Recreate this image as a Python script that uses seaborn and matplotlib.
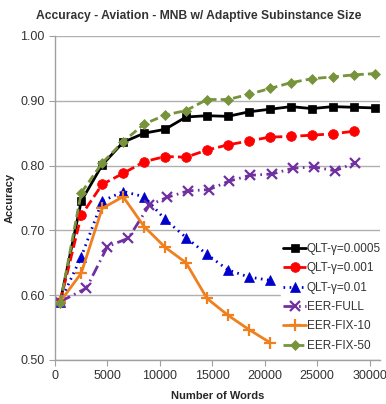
import matplotlib
matplotlib.use("Agg")
import matplotlib.pyplot as plt
import seaborn as sns
import numpy as np

# ---- data ----
x_common = [500, 2500, 4500, 6500, 8500, 10500, 12500, 14500, 16500, 18500,
            20500, 22500, 24500, 26500, 28500, 30500]
qlt_0005 = [0.590, 0.745, 0.801, 0.836, 0.850, 0.856, 0.875, 0.877, 0.876, 0.883,
            0.887, 0.891, 0.888, 0.891, 0.890, 0.889]
x_red = x_common[:15]
qlt_001 = [0.590, 0.723, 0.771, 0.788, 0.806, 0.814, 0.813, 0.824, 0.832, 0.838,
           0.844, 0.845, 0.847, 0.849, 0.853]
x_blue = x_common[:11]
qlt_01 = [0.590, 0.659, 0.745, 0.760, 0.752, 0.717, 0.689, 0.663, 0.639, 0.628, 0.623]
x_purple = [500, 3000, 5000, 7000, 9000, 10700, 12700, 14700, 16600, 18600,
            20700, 22700, 24700, 26700, 28600]
eer_full = [0.590, 0.611, 0.675, 0.688, 0.739, 0.751, 0.761, 0.763, 0.776, 0.785,
            0.787, 0.796, 0.798, 0.792, 0.804]
x_orange = x_common[:11]
eer_fix10 = [0.590, 0.634, 0.734, 0.752, 0.706, 0.674, 0.650, 0.595, 0.569, 0.547, 0.527]
eer_fix50 = [0.588, 0.758, 0.804, 0.837, 0.864, 0.878, 0.885, 0.902, 0.902, 0.910,
             0.919, 0.928, 0.934, 0.937, 0.940, 0.942]

x_ticks = [0, 5000, 10000, 15000, 20000, 25000, 30000]
y_ticks = [0.50, 0.60, 0.70, 0.80, 0.90, 1.00]

sns.set_style("white")
plt.rcParams['font.family'] = ['Liberation Sans', 'DejaVu Sans']

fig = plt.figure(figsize=(3.86, 4.04), dpi=100)
ax = fig.add_axes([55/386, 1-360/404, (380-55)/386, (360-36)/404])

series = [
    (x_common, qlt_0005, "QLT-γ=0.0005", "#000000", "-", "s", 5.5),
    (x_red, qlt_001, "QLT-γ=0.001", "#FF0000", (0, (3.5, 1.5)), "o", 7),
    (x_blue, qlt_01, "QLT-γ=0.01", "#0000CC", (0, (0.6, 1.6)), "^", 7),
    (x_purple, eer_full, "EER-FULL", "#7030A0", (0, (4, 1.6, 0.6, 1.6)), "x", 7),
    (x_orange, eer_fix10, "EER-FIX-10", "#F0801E", "-", "+", 9),
    (x_common, eer_fix50, "EER-FIX-50", "#77933C", (0, (3, 1.5)), "D", 5.5),
]
for xs, ys, lab, col, ls, mk, ms in series:
    sns.lineplot(x=xs, y=ys, ax=ax, label=lab, color=col, linestyle=ls,
                 marker=mk, markersize=ms, linewidth=2.0, sort=False,
                 markeredgecolor=col, markerfacecolor=col,
                 markeredgewidth=1.6 if mk in ("x", "+") else 0.5)

ax.set_xlim(0, 31000)
ax.set_ylim(0.50, 1.00)
ax.set_xticks(x_ticks)
ax.set_yticks(y_ticks)
ax.set_yticklabels([f"{v:.2f}" for v in y_ticks])
ax.grid(axis='y', color='#B0B0B0', linewidth=1.0)
ax.set_axisbelow(True)
for s in ['top', 'right']:
    ax.spines[s].set_visible(False)
for s in ['left', 'bottom']:
    ax.spines[s].set_color('#A0A0A0')
    ax.spines[s].set_linewidth(1.0)
ax.tick_params(axis='both', which='both', direction='out', length=4, color='#A0A0A0',
               labelsize=9, labelcolor='#333333', left=True, bottom=True)

ax.set_xlabel("Number of Words", fontsize=8, fontweight='bold', labelpad=6)
ax.set_ylabel("Accuracy", fontsize=8, fontweight='bold', labelpad=4)
fig.text(199/386, 1-16/404, "Accuracy - Aviation - MNB w/ Adaptive Subinstance Size",
         ha='center', va='center', fontsize=8.7, fontweight='bold', color='#333333')

leg = ax.legend(loc='lower left', bbox_to_anchor=(281/386, 1-354/404),
                bbox_transform=fig.transFigure, frameon=True, fontsize=8.5,
                handlelength=1.9, handletextpad=0.1, labelspacing=0.62,
                borderpad=0.2, borderaxespad=0)
leg.get_frame().set_facecolor('white')
leg.get_frame().set_edgecolor('white')
leg.get_frame().set_alpha(1.0)
for t in leg.get_texts():
    t.set_color('#333333')

fig.savefig("out.png", dpi=100)
